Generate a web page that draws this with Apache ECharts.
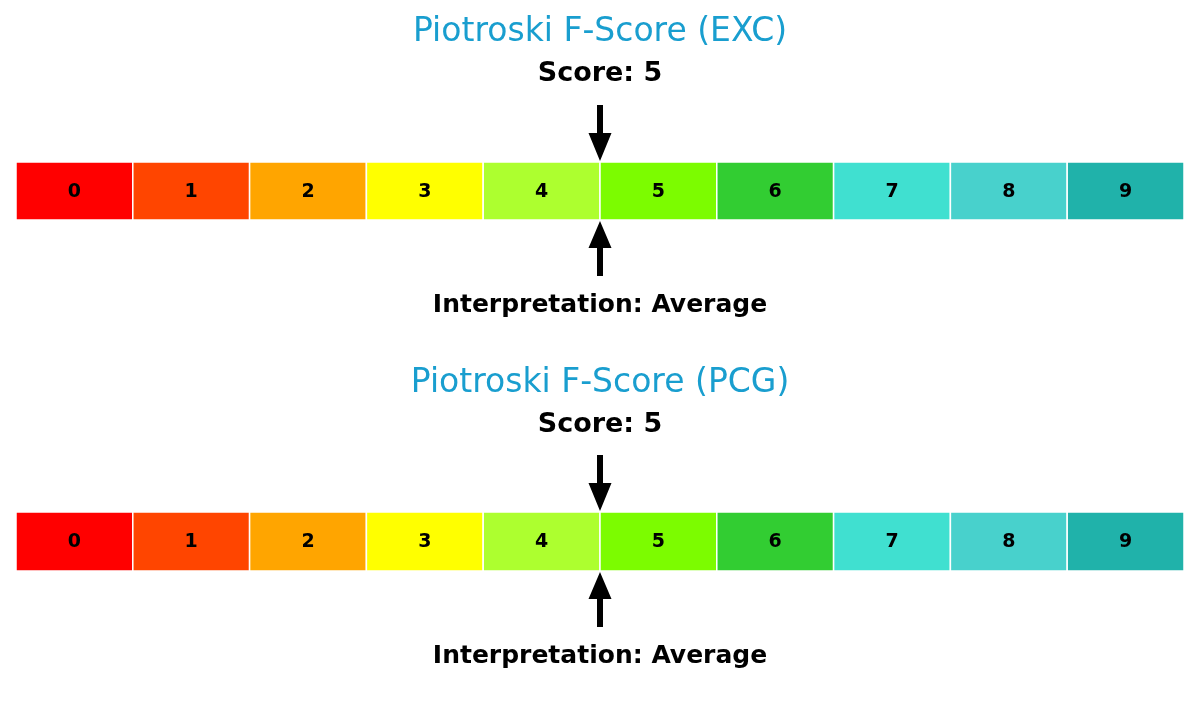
<!DOCTYPE html>
<html>
<head>
<meta charset="utf-8">
<script src="https://cdn.jsdelivr.net/npm/echarts@6/dist/echarts.min.js"></script>
<style>html,body{margin:0;padding:0;background:#fff;}#c{width:1200px;height:702px;}</style>
</head>
<body>
<div id="c"></div>
<script>
var cellLabels = ['0','1','2','3','4','5','6','7','8','9'];
var cellColors = ['#FF0000','#FF4500','#FFA500','#FFFF00','#ADFF2F','#7CFC00','#32CD32','#40E0D0','#48D1CC','#20B2AA'];
var tickers = ['EXC','PCG'];
var scores = [5,5];
var interpretations = ['Average','Average'];

var chart = echarts.init(document.getElementById('c'), null, {renderer:'canvas'});
var FONT = '"DejaVu Sans", sans-serif';

var grids = [
  {left:16, width:1168, top:162, height:58},
  {left:16, width:1168, top:512, height:59}
];
var textY = [
  {title:32, score:74, interp:305},
  {title:383, score:425, interp:656}
];

var xAxes = [], yAxes = [], series = [], graphics = [];
grids.forEach(function(g, p){
  xAxes.push({gridIndex:p, type:'value', min:0, max:10, show:false});
  yAxes.push({gridIndex:p, type:'value', min:0, max:1, show:false});
  series.push({
    type:'custom', xAxisIndex:p, yAxisIndex:p, silent:true,
    data: cellLabels.map(function(l,i){return [i, l];}),
    renderItem:function(params, api){
      var i = api.value(0);
      var a = api.coord([i, 1]);
      var b = api.coord([i+1, 0]);
      return {type:'group', children:[
        {type:'rect', shape:{x:a[0], y:a[1], width:b[0]-a[0], height:b[1]-a[1]},
          style:{fill:cellColors[i], stroke:'#ffffff', lineWidth:1.5}},
        {type:'text', x:(a[0]+b[0])/2, y:(a[1]+b[1])/2 + 1,
          style:{text:cellLabels[i], fill:'#000', font:'bold 19px '+FONT, align:'center', verticalAlign:'middle'}}
      ]};
    }
  });
  series.push({
    type:'custom', xAxisIndex:p, yAxisIndex:p, silent:true, z:5,
    data:[[scores[p]]],
    renderItem:function(params, api){
      var top = api.coord([api.value(0), 1]);
      var bot = api.coord([api.value(0), 0]);
      var x = top[0];
      var sw = 3, hw = 11.5;
      var t0 = top[1]-1, b0 = bot[1]+1;
      return {type:'group', children:[
        {type:'polygon', shape:{points:[
          [x-sw, t0-56],[x+sw, t0-56],[x+sw, t0-28],[x+hw, t0-28],[x, t0],[x-hw, t0-28],[x-sw, t0-28]
        ]}, style:{fill:'#000'}},
        {type:'polygon', shape:{points:[
          [x-sw, b0+55],[x+sw, b0+55],[x+sw, b0+27],[x+hw, b0+27],[x, b0],[x-hw, b0+27],[x-sw, b0+27]
        ]}, style:{fill:'#000'}}
      ]};
    }
  });
  var ty = textY[p];
  graphics.push({type:'text', x:600, y:ty.title, style:{text:'Piotroski F-Score ('+tickers[p]+')', fill:'#199ecf', font:'33px '+FONT, textAlign:'center', textVerticalAlign:'middle'}});
  graphics.push({type:'text', x:600, y:ty.score, style:{text:'Score: '+scores[p], fill:'#000', font:'bold 27px '+FONT, textAlign:'center', textVerticalAlign:'middle'}});
  graphics.push({type:'text', x:600, y:ty.interp, style:{text:'Interpretation: '+interpretations[p], fill:'#000', font:'bold 25px '+FONT, textAlign:'center', textVerticalAlign:'middle'}});
});

chart.setOption({
  animation:false,
  backgroundColor:'#ffffff',
  grid:grids,
  xAxis:xAxes,
  yAxis:yAxes,
  series:series,
  graphic:graphics
});
</script>
</body>
</html>
